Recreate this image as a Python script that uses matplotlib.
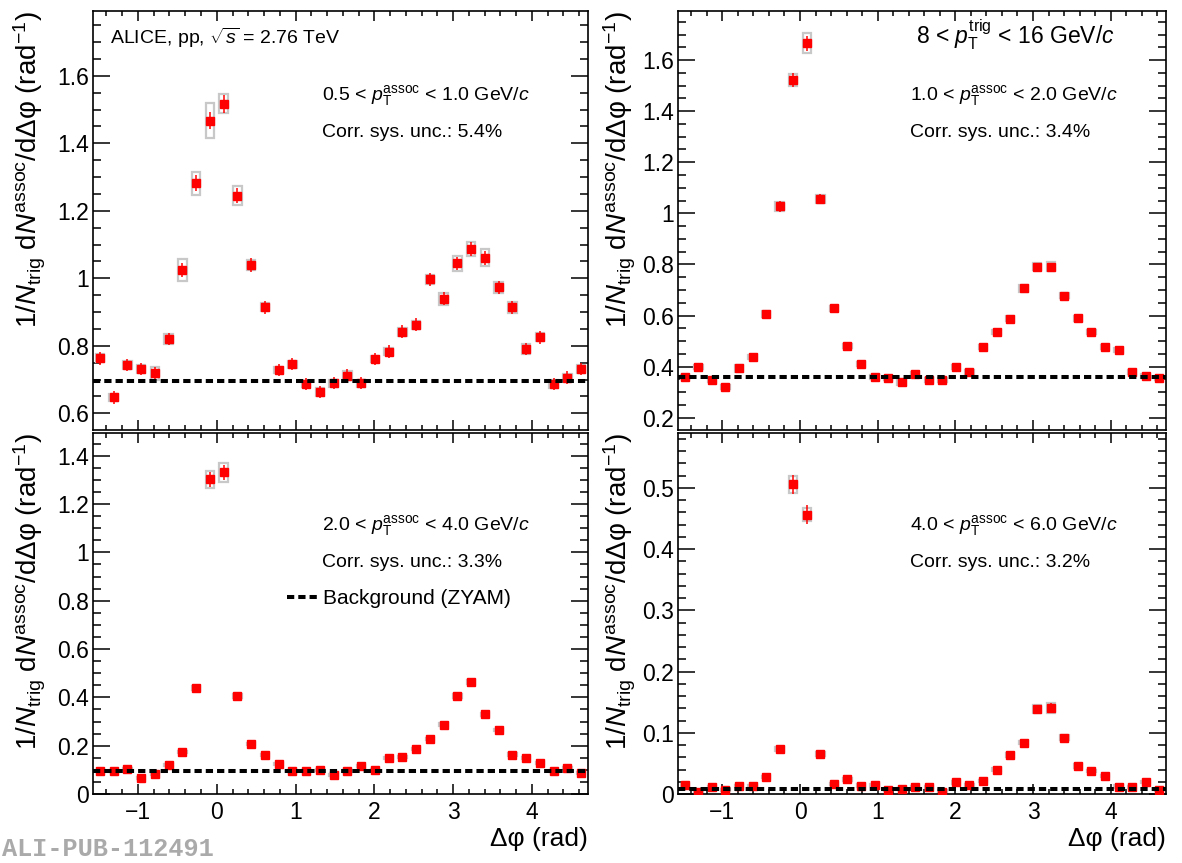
import numpy as np
import matplotlib
matplotlib.use('Agg')
import matplotlib.pyplot as plt
from matplotlib.patches import Rectangle
from matplotlib.ticker import MultipleLocator, FuncFormatter

plt.rcParams['font.family'] = ['Liberation Sans', 'DejaVu Sans']
plt.rcParams['mathtext.fontset'] = 'custom'
plt.rcParams['mathtext.rm'] = 'Liberation Sans'
plt.rcParams['mathtext.it'] = 'Liberation Sans:italic'
plt.rcParams['mathtext.bf'] = 'Liberation Sans:bold'

# 36 bins in dphi from -pi/2 to 3pi/2
nbins = 36
edges = np.linspace(-np.pi / 2, 3 * np.pi / 2, nbins + 1)
dphi = 0.5 * (edges[:-1] + edges[1:])

# 0.5 < pT assoc < 1.0
y_05_10 = [0.763, 0.647, 0.743, 0.732, 0.718, 0.820, 1.024, 1.282, 1.467, 1.517,
           1.245, 1.039, 0.914, 0.728, 0.745, 0.687, 0.662, 0.689, 0.712, 0.689,
           0.761, 0.783, 0.842, 0.862, 0.997, 0.939, 1.044, 1.087, 1.061, 0.973,
           0.914, 0.790, 0.825, 0.687, 0.706, 0.731]
stat_05_10 = [0.02, 0.018, 0.018, 0.018, 0.018, 0.019, 0.021, 0.023, 0.025, 0.026,
              0.023, 0.02, 0.019, 0.018, 0.018, 0.018, 0.018, 0.018, 0.018, 0.018,
              0.018, 0.018, 0.019, 0.019, 0.02, 0.019, 0.02, 0.021, 0.021, 0.02,
              0.019, 0.018, 0.019, 0.018, 0.018, 0.018]
sys_05_10 = [0.012, 0.01, 0.012, 0.012, 0.018, 0.015, 0.032, 0.034, 0.052, 0.028,
             0.029, 0.015, 0.012, 0.01, 0.01, 0.01, 0.012, 0.01, 0.014, 0.01,
             0.01, 0.01, 0.012, 0.012, 0.014, 0.018, 0.022, 0.02, 0.025, 0.017,
             0.016, 0.015, 0.012, 0.012, 0.01, 0.012]
bkg_05_10 = 0.697

# 1.0 < pT assoc < 2.0
y_10_20 = [0.361, 0.400, 0.348, 0.321, 0.393, 0.439, 0.606, 1.027, 1.522, 1.665,
           1.056, 0.629, 0.482, 0.410, 0.361, 0.357, 0.338, 0.371, 0.348, 0.348,
           0.400, 0.379, 0.478, 0.537, 0.588, 0.706, 0.791, 0.791, 0.678, 0.590,
           0.537, 0.477, 0.464, 0.379, 0.364, 0.357]
stat_10_20 = [0.008, 0.008, 0.008, 0.008, 0.008, 0.009, 0.011, 0.02, 0.029, 0.029,
              0.02, 0.012, 0.009, 0.008, 0.008, 0.008, 0.008, 0.008, 0.008, 0.008,
              0.008, 0.008, 0.009, 0.01, 0.01, 0.011, 0.014, 0.014, 0.011, 0.01,
              0.01, 0.009, 0.009, 0.008, 0.008, 0.008]
sys_10_20 = [0.008, 0.008, 0.008, 0.008, 0.012, 0.008, 0.01, 0.016, 0.022, 0.039,
             0.016, 0.01, 0.008, 0.008, 0.008, 0.008, 0.008, 0.008, 0.008, 0.008,
             0.008, 0.008, 0.008, 0.008, 0.01, 0.012, 0.014, 0.018, 0.01, 0.01,
             0.008, 0.008, 0.008, 0.008, 0.008, 0.008]
bkg_10_20 = 0.361

# 2.0 < pT assoc < 4.0
y_20_40 = [0.094, 0.097, 0.104, 0.065, 0.083, 0.120, 0.174, 0.438, 1.302, 1.331,
           0.404, 0.206, 0.160, 0.124, 0.097, 0.097, 0.101, 0.080, 0.097, 0.117,
           0.100, 0.149, 0.152, 0.187, 0.228, 0.287, 0.404, 0.463, 0.330, 0.265,
           0.163, 0.148, 0.129, 0.094, 0.106, 0.086]
stat_20_40 = [0.004, 0.004, 0.004, 0.004, 0.004, 0.005, 0.006, 0.01, 0.031, 0.031,
              0.01, 0.006, 0.005, 0.005, 0.004, 0.004, 0.004, 0.004, 0.004, 0.004,
              0.004, 0.005, 0.005, 0.006, 0.006, 0.007, 0.008, 0.009, 0.007, 0.006,
              0.005, 0.005, 0.005, 0.004, 0.004, 0.004]
sys_20_40 = [0.004, 0.004, 0.004, 0.004, 0.004, 0.004, 0.005, 0.008, 0.035, 0.04,
             0.008, 0.005, 0.004, 0.004, 0.004, 0.004, 0.004, 0.004, 0.004, 0.004,
             0.004, 0.004, 0.004, 0.005, 0.005, 0.006, 0.008, 0.009, 0.007, 0.006,
             0.005, 0.004, 0.004, 0.004, 0.004, 0.004]
bkg_20_40 = 0.094

# 4.0 < pT assoc < 6.0
y_40_60 = [0.0147, 0.004, 0.011, 0.0065, 0.013, 0.013, 0.028, 0.0736, 0.5055, 0.4564,
           0.0649, 0.0164, 0.024, 0.0136, 0.0147, 0.0065, 0.008, 0.011, 0.011, 0.004,
           0.019, 0.015, 0.021, 0.040, 0.064, 0.084, 0.139, 0.141, 0.092, 0.046,
           0.0376, 0.029, 0.012, 0.011, 0.0196, 0.0065]
stat_40_60 = [0.002, 0.002, 0.002, 0.002, 0.002, 0.002, 0.003, 0.004, 0.016, 0.015,
              0.004, 0.002, 0.002, 0.002, 0.002, 0.002, 0.002, 0.002, 0.002, 0.002,
              0.002, 0.002, 0.002, 0.003, 0.003, 0.004, 0.007, 0.007, 0.004, 0.003,
              0.003, 0.002, 0.002, 0.002, 0.002, 0.002]
sys_40_60 = [0.002, 0.002, 0.002, 0.002, 0.002, 0.002, 0.002, 0.003, 0.014, 0.01,
             0.003, 0.002, 0.002, 0.002, 0.002, 0.002, 0.002, 0.002, 0.002, 0.002,
             0.002, 0.002, 0.002, 0.002, 0.003, 0.003, 0.006, 0.008, 0.004, 0.003,
             0.002, 0.002, 0.002, 0.002, 0.002, 0.002]
bkg_40_60 = 0.0076

W, H = 1182, 863
fig = plt.figure(figsize=(W / 100, H / 100), dpi=100)


def px_axes(x0, y0, x1, y1):
    # pixel box (top-left origin) -> axes
    return fig.add_axes([x0 / W, 1 - y1 / H, (x1 - x0) / W, (y1 - y0) / H])


def draw_panel(ax, y, stat, sys, bkg, ylim, major, minor, xlabels):
    y = np.array(y)
    for xi, yi, si in zip(dphi, y, sys):
        ax.add_patch(Rectangle((xi - 0.055, yi - si), 0.11, 2 * si, fill=False,
                               edgecolor='#c8c8c8', lw=1.6, zorder=2))
    ax.errorbar(dphi, y, yerr=stat, fmt='none', ecolor='#ff0000', elinewidth=1.1,
                capsize=0, zorder=3)
    ax.plot(dphi, y, ls='none', marker='s', ms=6, color='#ff0000', mec='#ff0000',
            zorder=4)
    ax.axhline(bkg, color='black', lw=2.9, ls=(0, (1.8, 1.0)), zorder=5)
    ax.set_xlim(-np.pi / 2, 3 * np.pi / 2)
    ax.set_ylim(*ylim)
    ax.xaxis.set_major_locator(MultipleLocator(1))
    ax.xaxis.set_minor_locator(MultipleLocator(0.2))
    ax.yaxis.set_major_locator(MultipleLocator(major))
    ax.yaxis.set_minor_locator(MultipleLocator(minor))
    ax.yaxis.set_major_formatter(FuncFormatter(lambda v, p: '%g' % round(v, 6)))
    ax.tick_params(which='both', direction='in', top=True, right=True, width=1.1,
                   labelsize=16.5, colors='black')
    ax.tick_params(axis='y', which='major', length=12, pad=3)
    ax.tick_params(axis='y', which='minor', length=6)
    ax.tick_params(axis='x', which='major', length=7.5, pad=5)
    ax.tick_params(axis='x', which='minor', length=3.5)
    if not xlabels:
        ax.tick_params(axis='x', labelbottom=False)
    for s in ax.spines.values():
        s.set_linewidth(1.2)
    ax.set_ylabel(r'$1/N_{\mathrm{trig}}\ \mathrm{d}N^{\mathrm{assoc}}/\mathrm{d}\Delta\mathrm{\varphi}$ (rad$^{-1}$)',
                  fontsize=20, loc='top')
    if xlabels:
        ax.set_xlabel('Δφ (rad)', fontsize=19, loc='right', labelpad=2)


ax_tl = px_axes(93, 11, 588, 429.5)
ax_tr = px_axes(678, 11, 1166, 429.5)
ax_bl = px_axes(93, 433.3, 588, 794)
ax_br = px_axes(678, 433.3, 1166, 794)

draw_panel(ax_tl, y_05_10, stat_05_10, sys_05_10, bkg_05_10, (0.552, 1.792), 0.2, 0.05, False)
draw_panel(ax_tr, y_10_20, stat_10_20, sys_10_20, bkg_10_20, (0.154, 1.792), 0.2, 0.05, False)
draw_panel(ax_bl, y_20_40, stat_20_40, sys_20_40, bkg_20_40, (0.0, 1.493), 0.2, 0.05, True)
draw_panel(ax_br, y_40_60, stat_40_60, sys_40_60, bkg_40_60, (0.0, 0.589), 0.1, 0.02, True)

for ax in (ax_tl, ax_bl):
    ax.yaxis.set_label_coords(-0.091, 1.0)
for ax in (ax_tr, ax_br):
    ax.yaxis.set_label_coords(-0.082, 1.0)


def ftext(x, y, s, **kw):
    fig.text(x / W, 1 - y / H, s, va='baseline', ha='left', **kw)


ftext(110, 44, r'ALICE, pp, $\sqrt{s}$ = 2.76 TeV', fontsize=14)
ftext(322, 100, r'0.5 < $p_{\mathrm{T}}^{\mathrm{assoc}}$ < 1.0 GeV/$c$', fontsize=14)
ftext(322, 137, 'Corr. sys. unc.: 5.4%', fontsize=14)

ftext(916, 43, r'8 < $p_{\mathrm{T}}^{\mathrm{trig}}$ < 16 GeV/$c$', fontsize=16.5)
ftext(910, 100, r'1.0 < $p_{\mathrm{T}}^{\mathrm{assoc}}$ < 2.0 GeV/$c$', fontsize=14)
ftext(910, 137, 'Corr. sys. unc.: 3.4%', fontsize=14)

ftext(322, 530, r'2.0 < $p_{\mathrm{T}}^{\mathrm{assoc}}$ < 4.0 GeV/$c$', fontsize=14)
ftext(322, 567, 'Corr. sys. unc.: 3.3%', fontsize=14)
ftext(910, 530, r'4.0 < $p_{\mathrm{T}}^{\mathrm{assoc}}$ < 6.0 GeV/$c$', fontsize=14)
ftext(910, 567, 'Corr. sys. unc.: 3.2%', fontsize=14)

# legend entry for the ZYAM line
fig.add_artist(plt.Line2D([287 / W, 317 / W], [1 - 597 / H, 1 - 597 / H], color='black',
                          lw=2.9, ls=(0, (1.8, 1.0))))
ftext(323, 604, 'Background (ZYAM)', fontsize=15)

fig.text(2 / W, 1 - 856 / H, 'ALI-PUB-112491', family='Liberation Mono', weight='bold',
         color='#aaaaaa', fontsize=18.2, va='baseline', ha='left')

fig.savefig('out.png', dpi=100)
